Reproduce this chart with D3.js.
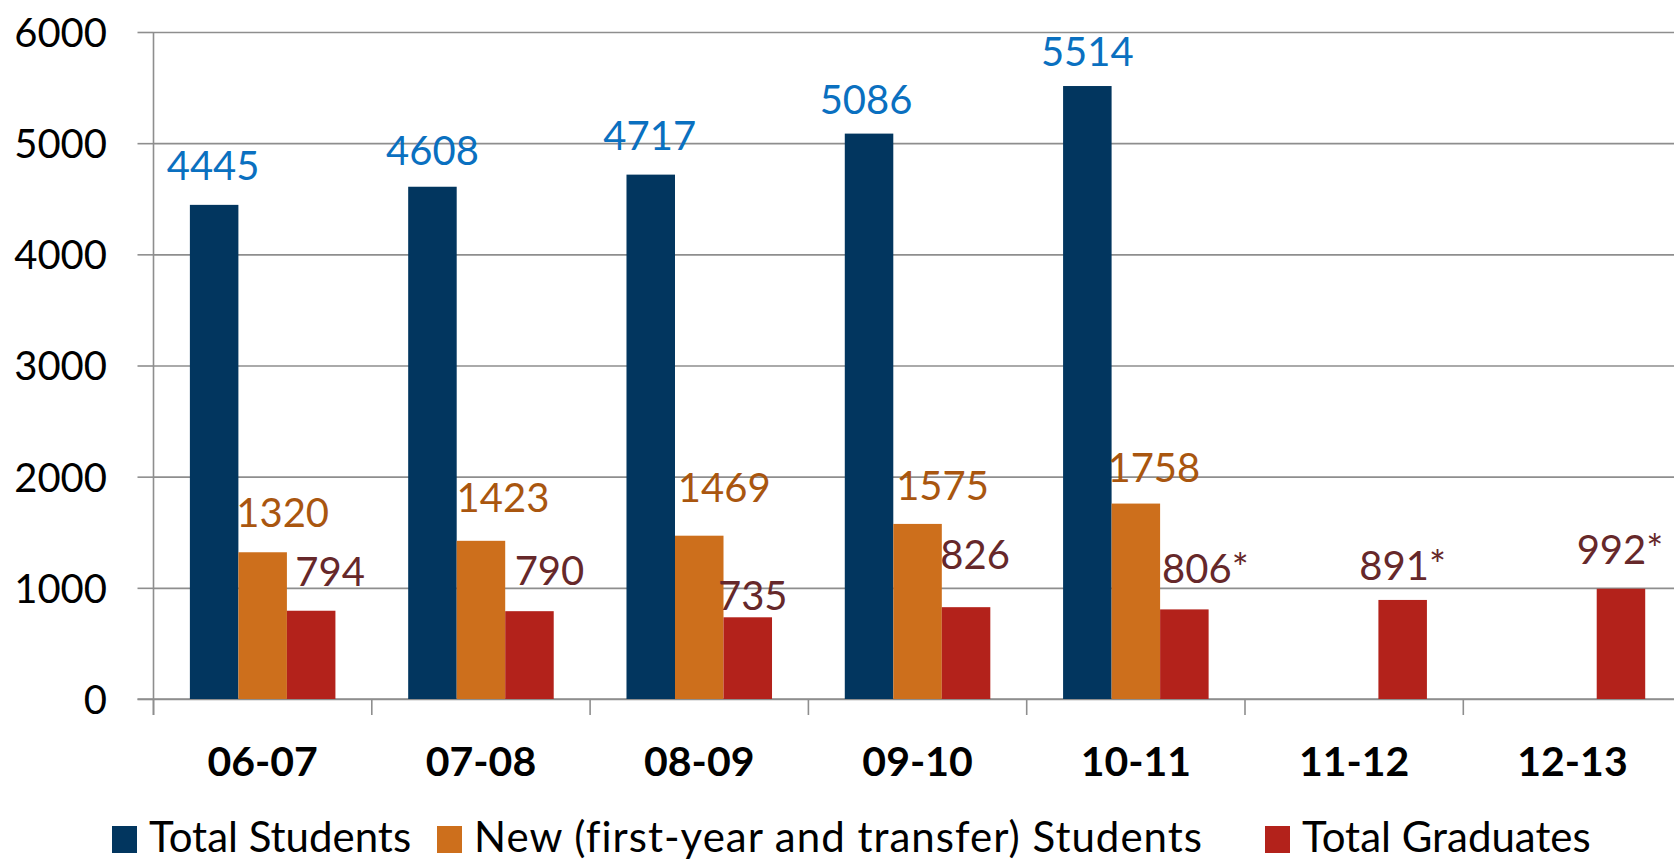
<!DOCTYPE html>
<html>
<head>
<meta charset="utf-8">
<script src="https://cdn.jsdelivr.net/npm/d3@7/dist/d3.min.js"></script>
<style>
  html, body { margin: 0; padding: 0; background: #ffffff; }
  svg { display: block; font-family: Carlito, Calibri, Lato, "Liberation Sans", sans-serif; }
</style>
</head>
<body>
<svg id="chart" width="1674" height="862"></svg>
<script>
// Academic years on the category axis
const years = ["06-07", "07-08", "08-09", "09-10", "10-11", "11-12", "12-13"];

// Series names shown in the legend
const seriesNames = ["Total Students", "New (first-year and transfer) Students", "Total Graduates"];

// Values per year (null = not reported)
const totalStudents = [4445, 4608, 4717, 5086, 5514, null, null];
const newStudents   = [1320, 1423, 1469, 1575, 1758, null, null];
const totalGraduates = [794, 790, 735, 826, 806, 891, 992];

// Graduates figures that are estimates carry an asterisk
const graduateMarks = ["", "", "", "", "*", "*", "*"];

// Y axis tick values
const yTicks = [0, 1000, 2000, 3000, 4000, 5000, 6000];

// ---- styling ----
const barColors = ["#02365f", "#cd6f1c", "#b3221b"];
const labelColors = ["#0a70c0", "#a9560f", "#66282a"];
const gridColor = "#8e8e8e";

// Label placement tweaks: horizontal shift from the bar centre and gap above the bar top
const labelNudge = [
  { dx: [-1, 0, -1, -3, 0, 0, 0],      gap: [25, 22, 25, 20, 20, 0, 0] },
  { dx: [20, 22, 25, 25, 18, 0, 0],    gap: [25, 29, 34, 24, 22, 0, 0] },
  { dx: [19, 20, 5, 9, 21, 0, -1],     gap: [25, 26, 7, 38, 26, 20, 25] }
];

// Legend entry left edges
const legendX = [112, 437, 1265];

const svg = d3.select("#chart");

const x0 = 153.5, step = 218.3;
const x = d3.scaleBand()
  .domain(years)
  .range([x0, x0 + step * years.length])
  .paddingInner(0).paddingOuter(0);

const xs = d3.scaleBand()
  .domain(d3.range(seriesNames.length))
  .range([0, x.bandwidth()])
  .paddingInner(0).paddingOuter(0.75);

const y = d3.scaleLinear().domain([0, 6000]).range([699, 32]);

// Horizontal gridlines with short ticks to the left of the axis
const grid = svg.append("g")
  .attr("transform", `translate(${x0},0)`)
  .call(d3.axisLeft(y).tickValues(yTicks).tickSize(-(1674 - x0)).tickFormat(""));
grid.select(".domain").remove();
grid.selectAll(".tick line").attr("stroke", gridColor).attr("stroke-width", 1.6);
grid.selectAll(".tick").each(function () {
  d3.select(this).append("line")
    .attr("x1", -16).attr("x2", 0)
    .attr("stroke", gridColor).attr("stroke-width", 1.6);
});

// Y tick labels
const yAxis = svg.append("g")
  .attr("transform", `translate(107,0)`)
  .call(d3.axisLeft(y).tickValues(yTicks).tickSize(0).tickPadding(0).tickFormat(d3.format("d")));
yAxis.select(".domain").remove();
yAxis.selectAll("text")
  .attr("font-family", "Lato, sans-serif")
  .attr("font-size", 40)
  .attr("fill", "#000")
  .attr("dy", "0.36em");

// Vertical axis line
svg.append("line")
  .attr("x1", x0).attr("x2", x0)
  .attr("y1", y(6000)).attr("y2", y(0) + 16)
  .attr("stroke", gridColor).attr("stroke-width", 1.6);

// Category axis with tick marks at the boundaries
const xAxis = svg.append("g")
  .attr("transform", `translate(0,${y(0)})`)
  .call(d3.axisBottom(x).tickSize(0).tickPadding(0));
xAxis.select(".domain").remove();
xAxis.selectAll("text")
  .attr("font-family", "Lato, sans-serif")
  .attr("font-weight", "bold")
  .attr("font-size", 41)
  .attr("fill", "#000")
  .attr("dy", null)
  .attr("y", 77);

const bounds = years.map(d => x(d)).concat([x0 + step * years.length]);
svg.append("g").selectAll("line")
  .data(bounds)
  .join("line")
  .attr("x1", d => d).attr("x2", d => d)
  .attr("y1", y(0)).attr("y2", y(0) + 16)
  .attr("stroke", gridColor).attr("stroke-width", 1.6);

svg.append("line")
  .attr("x1", x0 - 16).attr("x2", 1674)
  .attr("y1", y(0)).attr("y2", y(0))
  .attr("stroke", gridColor).attr("stroke-width", 1.6);

// Bars and value labels
const seriesValues = [totalStudents, newStudents, totalGraduates];
const points = [];
seriesValues.forEach((vals, s) => {
  vals.forEach((v, i) => {
    if (v !== null) points.push({ s, i, year: years[i], value: v });
  });
});

svg.append("g").selectAll("rect")
  .data(points)
  .join("rect")
  .attr("x", d => x(d.year) + xs(d.s))
  .attr("width", xs.bandwidth())
  .attr("y", d => y(d.value))
  .attr("height", d => y(0) - y(d.value))
  .attr("fill", d => barColors[d.s]);

svg.append("g").selectAll("text")
  .data(points)
  .join("text")
  .attr("x", d => x(d.year) + xs(d.s) + xs.bandwidth() / 2 + labelNudge[d.s].dx[d.i])
  .attr("y", d => y(d.value) - labelNudge[d.s].gap[d.i])
  .attr("text-anchor", "middle")
  .attr("font-family", "Lato, sans-serif")
  .attr("font-size", 40)
  .attr("fill", d => labelColors[d.s])
  .text(d => d.value + (d.s === 2 ? graduateMarks[d.i] : ""));

// Legend
const legend = svg.append("g");
const items = legend.selectAll("g")
  .data(seriesNames)
  .join("g")
  .attr("transform", (d, i) => `translate(${legendX[i]},0)`);
items.append("rect")
  .attr("width", 25).attr("height", 27)
  .attr("y", 826)
  .attr("fill", (d, i) => barColors[i]);
items.append("text")
  .attr("x", 37)
  .attr("y", 852)
  .attr("font-family", "Lato, sans-serif")
  .attr("font-size", 42)
  .attr("letter-spacing", (d, i) => i === 1 ? 1 : 0)
  .attr("fill", "#000")
  .text(d => d);
</script>
</body>
</html>
